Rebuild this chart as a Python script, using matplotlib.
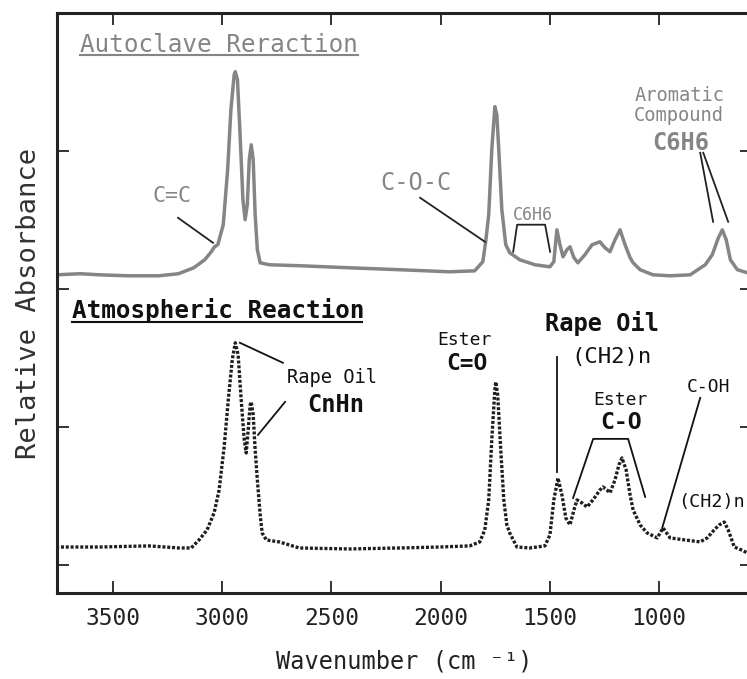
import matplotlib
matplotlib.use("Agg")
import matplotlib.pyplot as plt

plt.rcParams['font.family'] = ['DejaVu Sans Mono', 'DejaVu Sans']

# ---- data ----
wn_auto = [3760, 3650, 3560, 3430, 3290, 3200, 3130, 3080, 3050, 3035, 3020, 2995,
           2975, 2960, 2945, 2940, 2930, 2917, 2905, 2895, 2885, 2876, 2867, 2858,
           2849, 2839, 2826, 2784, 2647, 2417, 2188, 1959, 1844, 1807, 1794, 1780,
           1766, 1752, 1743, 1734, 1720, 1702, 1684, 1638, 1569, 1500, 1482, 1468,
           1454, 1440, 1422, 1408, 1390, 1372, 1340, 1307, 1271, 1248, 1225, 1202,
           1179, 1156, 1133, 1119, 1087, 1028, 950, 858, 789, 757, 729, 711, 693,
           674, 642, 596, 575]
abs_auto = [2.304, 2.312, 2.304, 2.297, 2.297, 2.312, 2.355, 2.413, 2.471, 2.507, 2.522, 2.667,
            3.065, 3.500, 3.754, 3.775, 3.717, 3.283, 2.848, 2.703, 2.812, 3.138, 3.246, 3.138,
            2.739, 2.486, 2.391, 2.377, 2.370, 2.355, 2.341, 2.326, 2.333, 2.399, 2.543, 2.739,
            3.210, 3.522, 3.464, 3.210, 2.775, 2.522, 2.464, 2.413, 2.377, 2.362, 2.399, 2.630,
            2.522, 2.435, 2.486, 2.507, 2.428, 2.391, 2.449, 2.522, 2.543, 2.500, 2.471, 2.558,
            2.630, 2.522, 2.428, 2.391, 2.341, 2.304, 2.297, 2.304, 2.377, 2.449, 2.572, 2.630, 2.558,
            2.413, 2.341, 2.319, 2.310]

wn_atm = [3760, 3564, 3335, 3197, 3142, 3106, 3069, 3037, 3014, 2991, 2972, 2954,
          2940, 2927, 2913, 2899, 2890, 2881, 2872, 2867, 2858, 2849, 2839, 2826,
          2817, 2798, 2739, 2647, 2417, 2188, 2005, 1867, 1821, 1798, 1780, 1766,
          1752, 1748, 1739, 1725, 1711, 1697, 1684, 1651, 1592, 1523, 1500, 1482,
          1463, 1445, 1427, 1408, 1390, 1376, 1353, 1330, 1303, 1271, 1257, 1239,
          1225, 1202, 1184, 1170, 1151, 1133, 1119, 1087, 1055, 1009, 982, 950,
          881, 812, 780, 748, 725, 702, 684, 656, 624, 596, 575]
abs_atm = [0.333, 0.333, 0.341, 0.326, 0.326, 0.384, 0.457, 0.580, 0.746, 1.058, 1.399, 1.688,
           1.812, 1.725, 1.399, 1.109, 1.014, 1.181, 1.362, 1.384, 1.290, 1.036, 0.819, 0.565,
           0.435, 0.384, 0.370, 0.326, 0.319, 0.326, 0.333, 0.341, 0.370, 0.457, 0.674, 1.109,
           1.471, 1.529, 1.435, 1.036, 0.674, 0.493, 0.435, 0.333, 0.326, 0.341, 0.420, 0.674,
           0.833, 0.710, 0.543, 0.493, 0.601, 0.674, 0.652, 0.623, 0.674, 0.746, 0.768, 0.746,
           0.725, 0.819, 0.928, 0.978, 0.891, 0.710, 0.601, 0.493, 0.435, 0.399, 0.471, 0.399,
           0.384, 0.370, 0.399, 0.457, 0.493, 0.514, 0.457, 0.333, 0.312, 0.290, 0.280]

xticks = [3500, 3000, 2500, 2000, 1500, 1000]
xtick_labels = ["3500", "3000", "2500", "2000", "1500", "1000"]
yticks = [0.2, 1.2, 2.2, 3.2]

GRAY = '#858585'
DARK = '#1e1e1e'

fig = plt.figure(figsize=(7.47, 6.79), dpi=100)
ax = fig.add_axes([57 / 747, 86 / 679, 695 / 747, 580 / 679])

ax.plot(wn_auto, abs_auto, color=GRAY, lw=2.5, solid_joinstyle='round')
ax.plot(wn_atm, abs_atm, color=DARK, lw=2.4, linestyle=(0, (0.9, 0.55)))

ax.set_xlim(3756, 575)
ax.set_ylim(0, 4.2)
ax.set_xticks(xticks)
ax.set_xticklabels(xtick_labels)
ax.set_yticks(yticks)
ax.set_yticklabels([])
ax.tick_params(direction='in', length=8.6, width=1.3, top=True, right=True,
               labelsize=16.5, pad=10, colors='#222222')
for s in ax.spines.values():
    s.set_linewidth(2.2)
    s.set_color('#222222')

ax.set_xlabel("Wavenumber (cm ⁻¹)", fontsize=17, labelpad=14, color='#222222')
ax.set_ylabel("Relative Absorbance", fontsize=19.5, labelpad=1, color='#333333')

# ---- titles with underline ----
ax.text(3651, 3.971, "Autoclave Reraction", fontsize=17.5, color=GRAY, va='center', ha='left')
ax.plot([3651, 2378], [3.899, 3.899], color=GRAY, lw=1.5)
ax.text(3688, 2.043, "Atmospheric Reaction", fontsize=17.5, color='#111111',
        va='center', ha='left', fontweight='bold')
ax.plot([3688, 2360], [1.964, 1.964], color='#111111', lw=1.5)

# ---- upper annotations ----
ax.text(3230, 2.877, "C=C", fontsize=15.5, color=GRAY, ha='center', va='center')
ax.plot([3202, 3042], [2.717, 2.536], color='#222222', lw=1.3)
ax.text(2113, 2.971, "C-O-C", fontsize=17, color=GRAY, ha='center', va='center')
ax.plot([2094, 1797], [2.862, 2.543], color='#222222', lw=1.3)
ax.text(1577, 2.739, "C6H6", fontsize=12, color=GRAY, ha='center', va='center')
ax.plot([1668, 1650, 1522, 1499], [2.471, 2.667, 2.667, 2.471], color='#222222', lw=1.3)
ax.text(908, 3.601, "Aromatic", fontsize=13.5, color=GRAY, ha='center', va='center')
ax.text(908, 3.457, "Compound", fontsize=13.5, color=GRAY, ha='center', va='center')
ax.text(899, 3.261, "C6H6", fontsize=17, color=GRAY, ha='center', va='center', fontweight='bold')
ax.plot([812, 753], [3.188, 2.688], color='#222222', lw=1.3)
ax.plot([798, 684], [3.188, 2.688], color='#222222', lw=1.3)

# ---- lower annotations ----
ax.text(2497, 1.558, "Rape Oil", fontsize=13.5, color='#111111', ha='center', va='center')
ax.text(2479, 1.362, "CnHn", fontsize=17, color='#111111', ha='center', va='center', fontweight='bold')
ax.plot([2919, 2722], [1.812, 1.667], color='#111111', lw=1.3)
ax.plot([2712, 2836], [1.384, 1.145], color='#111111', lw=1.3)

ax.text(1893, 1.833, "Ester", fontsize=13, color='#111111', ha='center', va='center')
ax.text(1879, 1.659, "C=O", fontsize=16.5, color='#111111', ha='center', va='center', fontweight='bold')

ax.text(1261, 1.949, "Rape Oil", fontsize=17, color='#111111', ha='center', va='center', fontweight='bold')
ax.text(1220, 1.710, "(CH2)n", fontsize=16, color='#111111', ha='center', va='center')
ax.plot([1467, 1467], [1.710, 0.877], color='#111111', lw=1.3)

ax.text(1179, 1.399, "Ester", fontsize=13, color='#111111', ha='center', va='center')
ax.text(1174, 1.232, "C-O", fontsize=16.7, color='#111111', ha='center', va='center', fontweight='bold')
ax.plot([1394, 1302, 1142, 1064], [0.688, 1.116, 1.116, 0.696], color='#111111', lw=1.3)

ax.text(776, 1.493, "C-OH", fontsize=13, color='#111111', ha='center', va='center')
ax.plot([812, 986], [1.413, 0.471], color='#111111', lw=1.3)
ax.text(914, 0.659, "(CH2)n", fontsize=13.2, color='#111111', ha='left', va='center')

fig.savefig("out.png", dpi=100, facecolor='white')
